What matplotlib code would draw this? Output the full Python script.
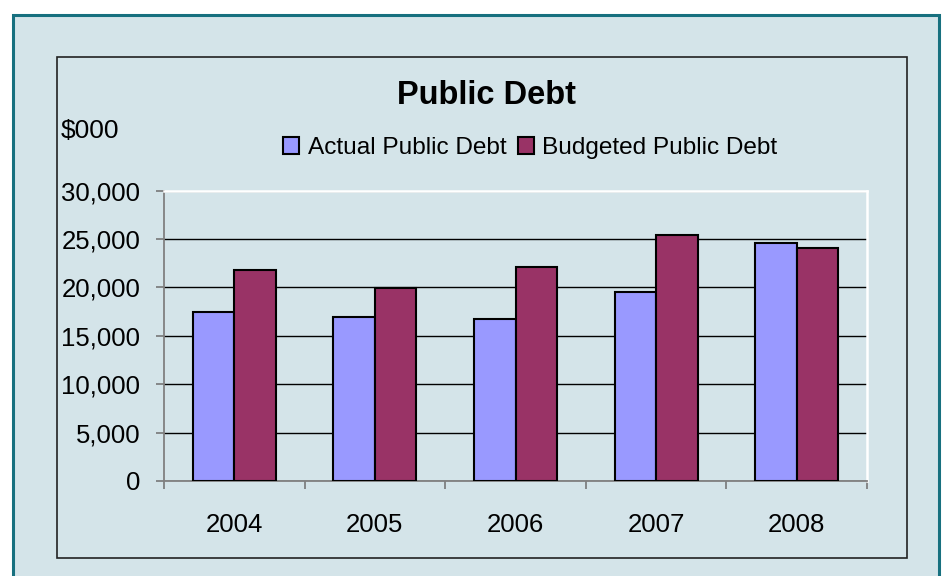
import numpy as np
import matplotlib
matplotlib.use('Agg')
from matplotlib import pyplot as plt
from matplotlib.patches import Rectangle
from matplotlib.ticker import FuncFormatter

plt.rcParams['font.family'] = ['Liberation Sans', 'DejaVu Sans']

# data
years = ['2004', '2005', '2006', '2007', '2008']
actual = [17450, 16900, 16700, 19500, 24600]
budgeted = [21800, 19900, 22100, 25400, 24100]
series_names = ['Actual Public Debt', 'Budgeted Public Debt']

bg = '#D4E4E9'
W, H = 946, 576

fig = plt.figure(figsize=(W / 100, H / 100), dpi=100, facecolor='white')

def fx(px):
    return px / W

def fy(py):
    return 1 - py / H

# outer teal frame and inner black frame
fig.patches.append(Rectangle((fx(13), fy(600)), fx(939) - fx(13), fy(15) - fy(600),
                             transform=fig.transFigure, facecolor=bg,
                             edgecolor='#17707F', linewidth=2.2, zorder=-2))
fig.patches.append(Rectangle((fx(57), fy(558)), fx(907) - fx(57), fy(57) - fy(558),
                             transform=fig.transFigure, facecolor='none',
                             edgecolor='#222222', linewidth=1.2, zorder=-1))

ax = fig.add_axes([fx(164), fy(481), fx(867) - fx(164), fy(190.5) - fy(481)])
ax.set_facecolor(bg)
ax.set_zorder(2)

x = np.arange(len(years))
w = 0.295
ax.bar(x - w / 2, actual, width=w, color='#9999FF', edgecolor='black', linewidth=1.5,
       label=series_names[0], zorder=3)
ax.bar(x + w / 2, budgeted, width=w, color='#993366', edgecolor='black', linewidth=1.5,
       label=series_names[1], zorder=3)

ax.set_xlim(-0.5, len(years) - 0.5)
ax.set_ylim(0, 30000)
ax.set_yticks(np.arange(0, 30001, 5000))
ax.yaxis.set_major_formatter(FuncFormatter(lambda v, p: f'{int(v):,}'))
ax.grid(axis='y', color='black', linewidth=1.0, zorder=1)

# category boundaries as ticks, labels at centers
ax.set_xticks(np.arange(-0.5, len(years), 1.0))
ax.set_xticklabels([])
ax.set_xticks(x, minor=True)
ax.set_xticklabels(years, minor=True, fontsize=18.5)
ax.tick_params(axis='x', which='major', direction='out', length=6, color='#777777', width=1.2)
ax.tick_params(axis='x', which='minor', length=0, pad=23)
ax.tick_params(axis='y', direction='out', length=6, color='#777777', width=1.2,
               labelsize=18.5, pad=11)

for s in ['left', 'bottom']:
    ax.spines[s].set_color('#808080')
    ax.spines[s].set_linewidth(1.3)
for s in ['top', 'right']:
    ax.spines[s].set_color('white')
    ax.spines[s].set_linewidth(1.8)

fig.text(fx(486), fy(96), 'Public Debt', fontsize=23.5, fontweight='bold',
         ha='center', va='center')
fig.text(fx(61), fy(131), '$000', fontsize=19, ha='left', va='center')

fig.legend(loc='center left', bbox_to_anchor=(fx(283), fy(148)), ncol=2,
           frameon=False, fontsize=17.6, handlelength=0.66, handleheight=0.66,
           handletextpad=0.36, columnspacing=0.45, borderaxespad=0, borderpad=0)

plt.savefig('out.png', dpi=100, facecolor='white')
